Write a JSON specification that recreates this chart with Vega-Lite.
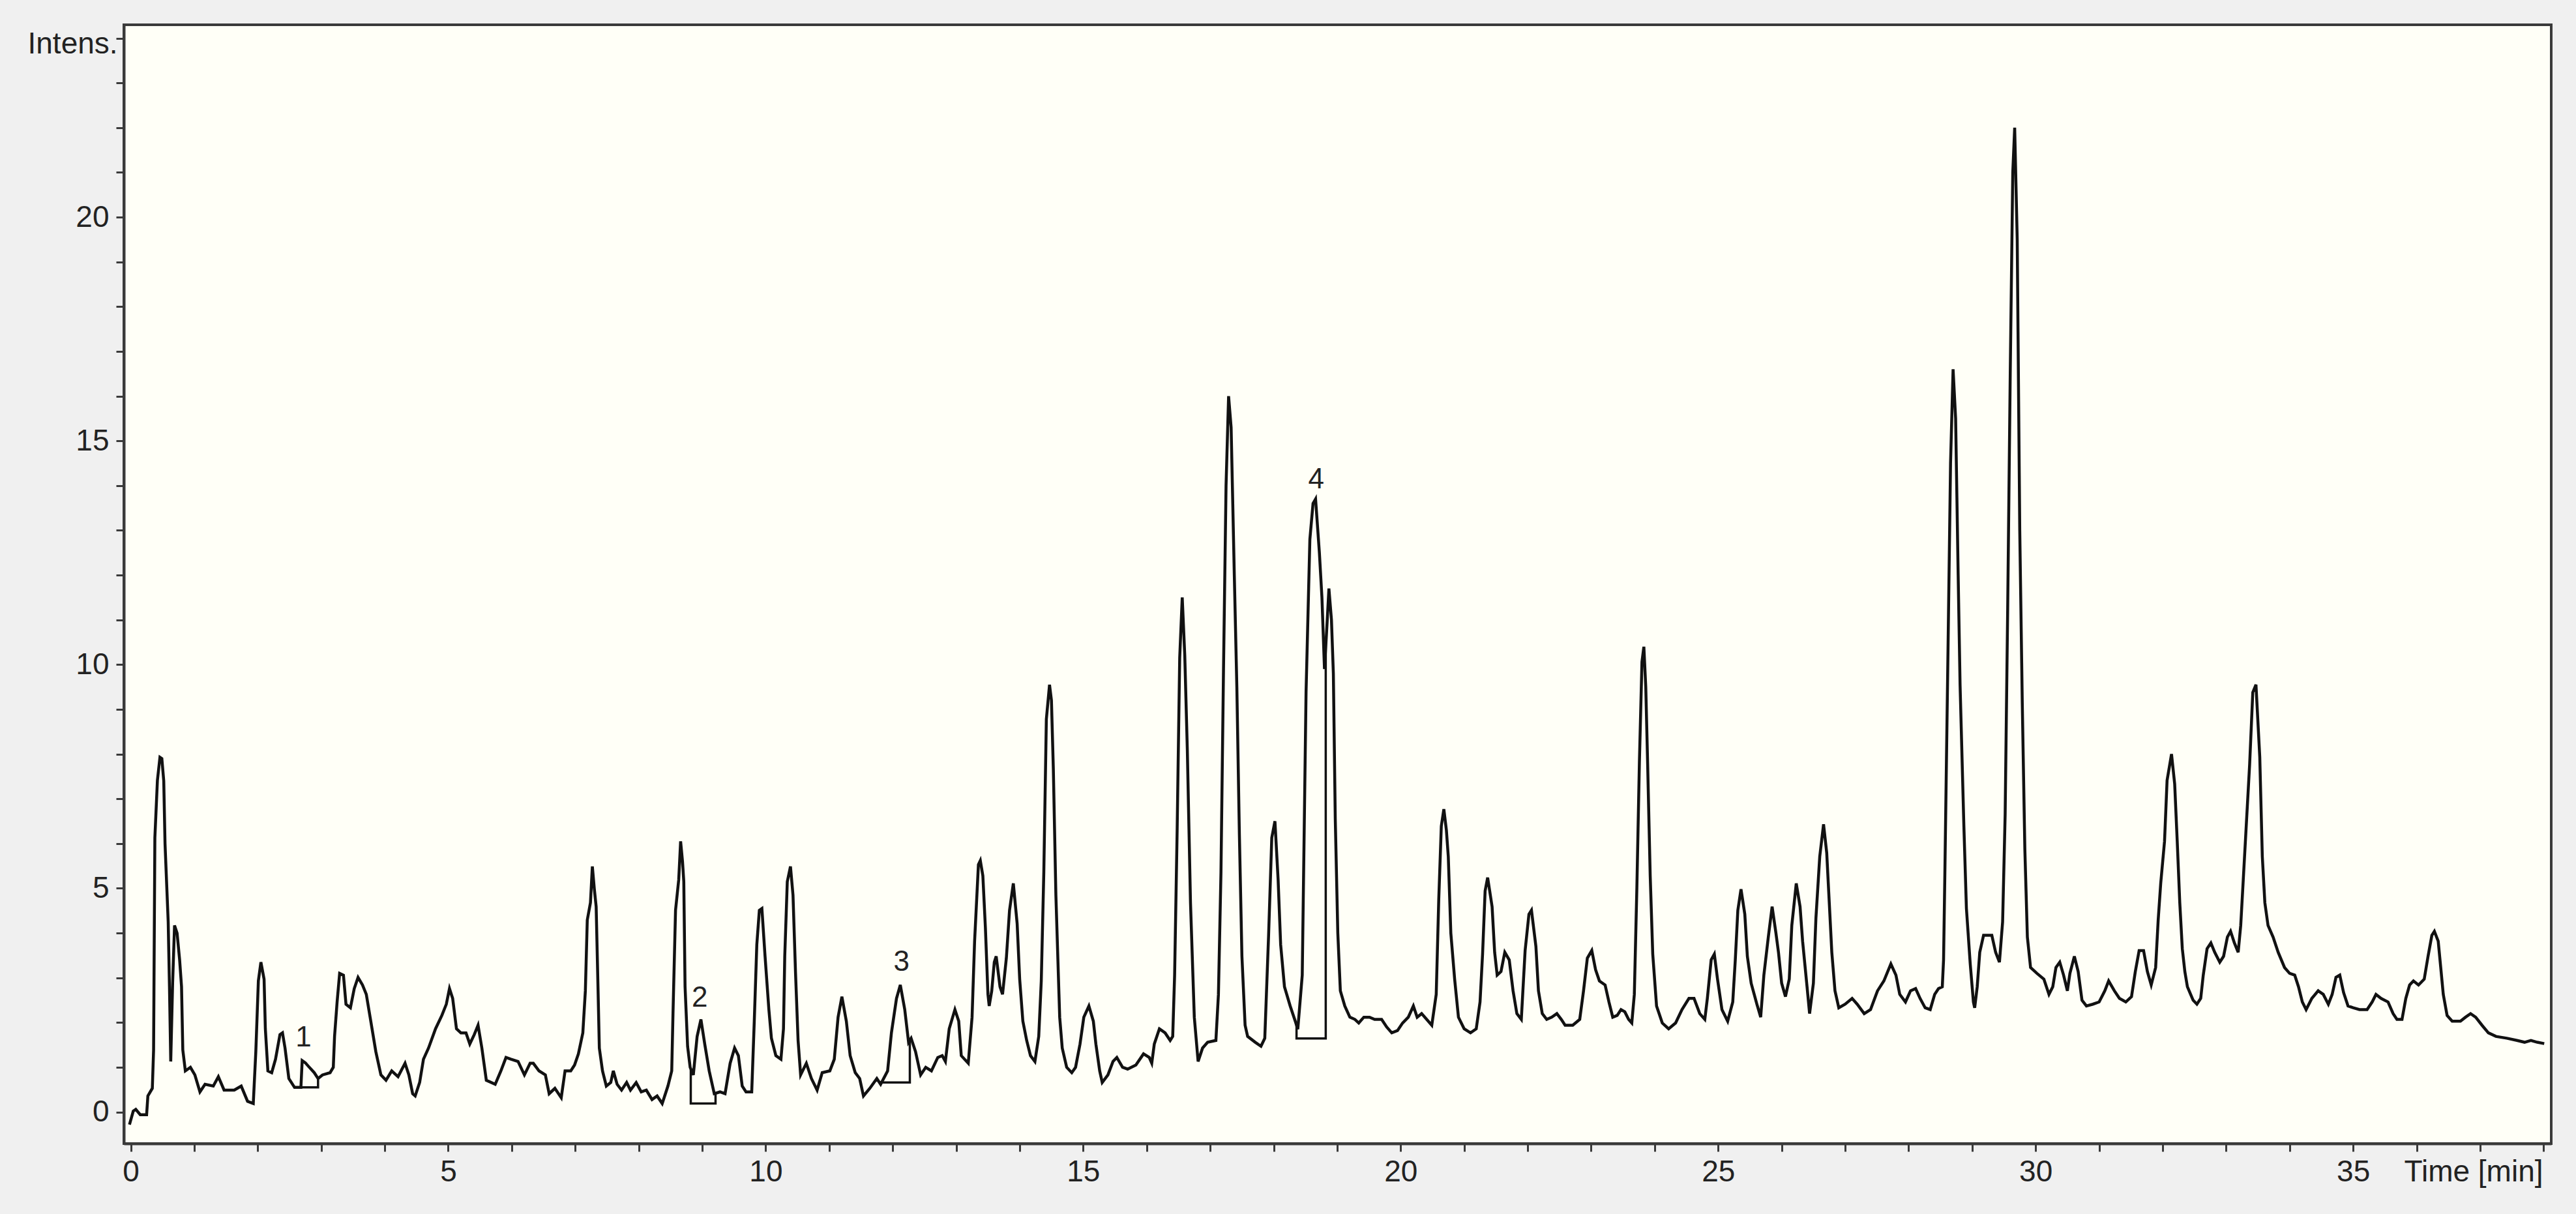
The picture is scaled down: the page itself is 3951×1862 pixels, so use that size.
{
"$schema": "https://vega.github.io/schema/vega-lite/v6.json",
"width": 3723, "height": 1716,
"autosize": {"type": "none"},
"padding": {"left": 190, "top": 38, "right": 38, "bottom": 108},
"background": "#F0F0F0",
"config": {"view": {"fill": "#FFFFF7", "stroke": "#3a3a3a", "strokeWidth": 4}, "font": "Liberation Sans", "axis": {"labelFont": "Liberation Sans", "titleFont": "Liberation Sans"}},
"datasets": {
"trace": [
{"t":-0.02,"v":-0.28},{"t":0.04,"v":0.02},{"t":0.08,"v":0.06},{"t":0.15,"v":-0.06},{"t":0.25,"v":-0.06},{"t":0.27,"v":0.36},{"t":0.34,"v":0.53},{"t":0.36,"v":1.39},{"t":0.38,"v":6.13},{"t":0.42,"v":7.41},{"t":0.46,"v":7.93},{"t":0.49,"v":7.9},{"t":0.52,"v":7.4},{"t":0.54,"v":6.0},{"t":0.59,"v":4.25},{"t":0.61,"v":2.8},{"t":0.63,"v":1.13},{"t":0.66,"v":2.9},{"t":0.69,"v":4.17},{"t":0.73,"v":4.0},{"t":0.77,"v":3.4},{"t":0.80,"v":2.8},{"t":0.82,"v":1.39},{"t":0.86,"v":0.92},{"t":0.94,"v":1.0},{"t":1.01,"v":0.83},{"t":1.09,"v":0.45},{"t":1.17,"v":0.62},{"t":1.30,"v":0.58},{"t":1.38,"v":0.79},{"t":1.47,"v":0.49},{"t":1.63,"v":0.49},{"t":1.74,"v":0.58},{"t":1.84,"v":0.24},{"t":1.93,"v":0.19},{"t":1.97,"v":1.35},{"t":2.01,"v":2.93},{"t":2.05,"v":3.35},{"t":2.10,"v":2.97},{"t":2.12,"v":1.86},{"t":2.16,"v":0.92},{"t":2.22,"v":0.88},{"t":2.28,"v":1.18},{"t":2.35,"v":1.73},{"t":2.39,"v":1.77},{"t":2.43,"v":1.43},{"t":2.49,"v":0.75},{"t":2.58,"v":0.55},{"t":2.68,"v":0.55},{"t":2.70,"v":1.15},{"t":2.75,"v":1.1},{"t":2.80,"v":1.02},{"t":2.89,"v":0.88},{"t":2.95,"v":0.75},{"t":3.02,"v":0.83},{"t":3.14,"v":0.88},{"t":3.19,"v":1.0},{"t":3.21,"v":1.69},{"t":3.25,"v":2.46},{"t":3.29,"v":3.1},{"t":3.35,"v":3.06},{"t":3.39,"v":2.41},{"t":3.46,"v":2.33},{"t":3.52,"v":2.76},{"t":3.58,"v":3.01},{"t":3.65,"v":2.84},{"t":3.71,"v":2.63},{"t":3.77,"v":2.12},{"t":3.86,"v":1.35},{"t":3.94,"v":0.83},{"t":4.02,"v":0.71},{"t":4.11,"v":0.92},{"t":4.21,"v":0.79},{"t":4.32,"v":1.09},{"t":4.38,"v":0.83},{"t":4.44,"v":0.41},{"t":4.48,"v":0.36},{"t":4.55,"v":0.66},{"t":4.61,"v":1.18},{"t":4.69,"v":1.43},{"t":4.80,"v":1.86},{"t":4.90,"v":2.16},{"t":4.97,"v":2.41},{"t":5.02,"v":2.76},{"t":5.07,"v":2.54},{"t":5.13,"v":1.86},{"t":5.20,"v":1.77},{"t":5.28,"v":1.77},{"t":5.34,"v":1.52},{"t":5.41,"v":1.73},{"t":5.47,"v":1.94},{"t":5.53,"v":1.43},{"t":5.60,"v":0.71},{"t":5.74,"v":0.62},{"t":5.83,"v":0.92},{"t":5.91,"v":1.22},{"t":5.99,"v":1.18},{"t":6.10,"v":1.13},{"t":6.20,"v":0.83},{"t":6.29,"v":1.09},
{"t":6.34,"v":1.09},{"t":6.43,"v":0.92},{"t":6.53,"v":0.83},{"t":6.59,"v":0.41},{"t":6.68,"v":0.53},{"t":6.78,"v":0.32},{"t":6.84,"v":0.92},{"t":6.93,"v":0.92},{"t":6.99,"v":1.05},{"t":7.05,"v":1.3},{"t":7.12,"v":1.77},{"t":7.16,"v":2.71},{"t":7.19,"v":4.29},{"t":7.24,"v":4.68},{"t":7.27,"v":5.49},{"t":7.30,"v":5.0},{"t":7.33,"v":4.59},{"t":7.36,"v":2.71},{"t":7.38,"v":1.43},{"t":7.43,"v":0.92},{"t":7.49,"v":0.58},{"t":7.56,"v":0.66},{"t":7.60,"v":0.92},{"t":7.66,"v":0.62},{"t":7.73,"v":0.49},{"t":7.81,"v":0.66},{"t":7.87,"v":0.49},{"t":7.96,"v":0.66},{"t":8.04,"v":0.45},{"t":8.12,"v":0.49},{"t":8.21,"v":0.28},{"t":8.29,"v":0.36},{"t":8.37,"v":0.19},{"t":8.46,"v":0.58},{"t":8.52,"v":0.92},{"t":8.54,"v":2.2},{"t":8.58,"v":4.51},{"t":8.63,"v":5.19},{"t":8.66,"v":6.05},{"t":8.69,"v":5.6},{"t":8.71,"v":5.15},{"t":8.73,"v":2.8},{"t":8.77,"v":1.47},{"t":8.81,"v":1.0},{"t":8.86,"v":0.83},{"t":8.92,"v":1.69},{"t":8.98,"v":2.07},{"t":9.04,"v":1.52},{"t":9.11,"v":0.92},{"t":9.19,"v":0.41},{"t":9.28,"v":0.45},{"t":9.36,"v":0.41},{"t":9.44,"v":1.09},{"t":9.51,"v":1.43},{"t":9.57,"v":1.26},{"t":9.63,"v":0.58},{"t":9.69,"v":0.45},{"t":9.78,"v":0.45},{"t":9.82,"v":2.03},{"t":9.86,"v":3.74},{"t":9.90,"v":4.51},{"t":9.94,"v":4.55},{"t":9.99,"v":3.48},{"t":10.05,"v":2.29},{"t":10.09,"v":1.65},{"t":10.16,"v":1.26},{"t":10.24,"v":1.18},{"t":10.28,"v":1.86},{"t":10.30,"v":3.48},{"t":10.34,"v":5.15},{"t":10.39,"v":5.49},{"t":10.43,"v":4.85},{"t":10.47,"v":3.1},{"t":10.51,"v":1.6},{"t":10.55,"v":0.83},{"t":10.64,"v":1.09},{"t":10.72,"v":0.75},{"t":10.81,"v":0.49},{"t":10.89,"v":0.88},{"t":11.01,"v":0.92},{"t":11.08,"v":1.18},{"t":11.14,"v":2.12},{"t":11.20,"v":2.58},{"t":11.27,"v":2.03},{"t":11.33,"v":1.26},{"t":11.41,"v":0.88},{"t":11.48,"v":0.75},{"t":11.54,"v":0.36},{"t":11.64,"v":0.53},{"t":11.75,"v":0.75},{"t":11.81,"v":0.62},{"t":11.92,"v":0.92},{"t":11.98,"v":1.77},{"t":12.06,"v":2.54},{"t":12.12,"v":2.84},{"t":12.19,"v":2.29},{"t":12.25,"v":1.56},{"t":12.29,"v":1.65},{"t":12.36,"v":1.35},{"t":12.44,"v":0.83},{"t":12.52,"v":1.0},{"t":12.61,"v":0.92},{"t":12.71,"v":1.22},{"t":12.78,"v":1.26},
{"t":12.83,"v":1.13},{"t":12.89,"v":1.86},{"t":12.98,"v":2.29},{"t":13.04,"v":2.03},{"t":13.08,"v":1.26},{"t":13.19,"v":1.09},{"t":13.25,"v":2.12},{"t":13.29,"v":3.82},{"t":13.35,"v":5.53},{"t":13.38,"v":5.62},{"t":13.42,"v":5.28},{"t":13.46,"v":4.12},{"t":13.50,"v":2.63},{"t":13.52,"v":2.37},{"t":13.56,"v":2.71},{"t":13.60,"v":3.35},{"t":13.63,"v":3.48},{"t":13.69,"v":2.8},{"t":13.73,"v":2.63},{"t":13.79,"v":3.44},{"t":13.84,"v":4.51},{"t":13.90,"v":5.11},{"t":13.96,"v":4.21},{"t":14.00,"v":2.97},{"t":14.05,"v":2.03},{"t":14.11,"v":1.6},{"t":14.17,"v":1.26},{"t":14.24,"v":1.13},{"t":14.30,"v":1.69},{"t":14.34,"v":2.93},{"t":14.38,"v":5.36},{"t":14.42,"v":8.78},{"t":14.47,"v":9.55},{"t":14.50,"v":9.2},{"t":14.53,"v":7.67},{"t":14.57,"v":4.85},{"t":14.63,"v":2.12},{"t":14.67,"v":1.43},{"t":14.74,"v":1.0},{"t":14.82,"v":0.88},{"t":14.88,"v":1.0},{"t":14.95,"v":1.52},{"t":15.01,"v":2.12},{"t":15.09,"v":2.37},{"t":15.16,"v":2.03},{"t":15.20,"v":1.52},{"t":15.26,"v":0.92},{"t":15.30,"v":0.66},{"t":15.39,"v":0.83},{"t":15.47,"v":1.13},{"t":15.53,"v":1.22},{"t":15.62,"v":1.0},{"t":15.70,"v":0.96},{"t":15.83,"v":1.05},{"t":15.95,"v":1.3},{"t":16.04,"v":1.22},{"t":16.08,"v":1.09},{"t":16.12,"v":1.52},{"t":16.20,"v":1.86},{"t":16.29,"v":1.77},{"t":16.37,"v":1.6},{"t":16.41,"v":1.69},{"t":16.44,"v":3.06},{"t":16.48,"v":6.3},{"t":16.52,"v":10.15},{"t":16.56,"v":11.5},{"t":16.60,"v":10.2},{"t":16.64,"v":8.1},{"t":16.69,"v":4.68},{"t":16.75,"v":2.12},{"t":16.81,"v":1.13},{"t":16.88,"v":1.43},{"t":16.96,"v":1.56},{"t":17.09,"v":1.6},{"t":17.13,"v":2.63},{"t":17.17,"v":5.36},{"t":17.21,"v":9.9},{"t":17.25,"v":14.0},{"t":17.29,"v":16.0},{"t":17.33,"v":15.3},{"t":17.38,"v":12.0},{"t":17.42,"v":9.5},{"t":17.46,"v":6.2},{"t":17.50,"v":3.48},{"t":17.55,"v":1.94},{"t":17.59,"v":1.69},{"t":17.71,"v":1.56},{"t":17.80,"v":1.47},{"t":17.86,"v":1.65},{"t":17.92,"v":3.95},{"t":17.97,"v":6.13},{"t":18.02,"v":6.5},{"t":18.07,"v":5.19},{"t":18.11,"v":3.74},{"t":18.17,"v":2.8},{"t":18.26,"v":2.37},{"t":18.34,"v":2.03},{"t":18.38,"v":1.85},{"t":18.45,"v":3.06},{"t":18.51,"v":9.38},{"t":18.57,"v":12.8},{"t":18.62,"v":13.6},{"t":18.66,"v":13.7},{"t":18.72,"v":12.5},{"t":18.76,"v":11.5},{"t":18.80,"v":9.9},{"t":18.84,"v":10.9},{"t":18.87,"v":11.7},{"t":18.91,"v":11.0},{"t":18.94,"v":9.8},{"t":18.97,"v":6.56},{"t":19.01,"v":4.0},{"t":19.05,"v":2.71},{"t":19.12,"v":2.37},{"t":19.20,"v":2.12},
{"t":19.28,"v":2.07},{"t":19.34,"v":1.99},{"t":19.42,"v":2.12},{"t":19.51,"v":2.12},{"t":19.59,"v":2.07},{"t":19.70,"v":2.07},{"t":19.78,"v":1.9},{"t":19.86,"v":1.77},{"t":19.95,"v":1.82},{"t":20.03,"v":1.99},{"t":20.12,"v":2.12},{"t":20.20,"v":2.37},{"t":20.26,"v":2.12},{"t":20.33,"v":2.2},{"t":20.41,"v":2.07},{"t":20.49,"v":1.94},{"t":20.56,"v":2.63},{"t":20.60,"v":4.76},{"t":20.64,"v":6.39},{"t":20.68,"v":6.77},{"t":20.72,"v":6.3},{"t":20.75,"v":5.71},{"t":20.79,"v":4.0},{"t":20.85,"v":2.97},{"t":20.91,"v":2.12},{"t":21.00,"v":1.86},{"t":21.10,"v":1.77},{"t":21.19,"v":1.86},{"t":21.25,"v":2.46},{"t":21.29,"v":3.53},{"t":21.33,"v":4.94},{"t":21.37,"v":5.24},{"t":21.44,"v":4.59},{"t":21.48,"v":3.57},{"t":21.52,"v":3.06},{"t":21.58,"v":3.14},{"t":21.64,"v":3.57},{"t":21.71,"v":3.4},{"t":21.77,"v":2.71},{"t":21.83,"v":2.2},{"t":21.90,"v":2.07},{"t":21.96,"v":3.61},{"t":22.02,"v":4.42},{"t":22.06,"v":4.51},{"t":22.13,"v":3.7},{"t":22.17,"v":2.71},{"t":22.23,"v":2.2},{"t":22.30,"v":2.07},{"t":22.38,"v":2.12},{"t":22.46,"v":2.2},{"t":22.53,"v":2.07},{"t":22.59,"v":1.94},{"t":22.71,"v":1.94},{"t":22.82,"v":2.07},{"t":22.88,"v":2.71},{"t":22.94,"v":3.44},{"t":23.01,"v":3.61},{"t":23.07,"v":3.18},{"t":23.13,"v":2.93},{"t":23.22,"v":2.84},{"t":23.28,"v":2.46},{"t":23.34,"v":2.12},{"t":23.41,"v":2.16},{"t":23.47,"v":2.29},{"t":23.53,"v":2.24},{"t":23.59,"v":2.07},{"t":23.64,"v":1.99},{"t":23.68,"v":2.63},{"t":23.72,"v":5.02},{"t":23.76,"v":7.84},{"t":23.80,"v":10.06},{"t":23.83,"v":10.4},{"t":23.86,"v":9.5},{"t":23.89,"v":7.76},{"t":23.93,"v":5.28},{"t":23.97,"v":3.53},{"t":24.03,"v":2.37},{"t":24.12,"v":1.99},{"t":24.22,"v":1.86},{"t":24.33,"v":1.99},{"t":24.43,"v":2.29},{"t":24.54,"v":2.54},{"t":24.62,"v":2.54},{"t":24.71,"v":2.2},{"t":24.79,"v":2.07},{"t":24.83,"v":2.54},{"t":24.89,"v":3.4},{"t":24.94,"v":3.53},{"t":24.99,"v":2.97},{"t":25.06,"v":2.29},{"t":25.15,"v":2.03},{"t":25.23,"v":2.46},{"t":25.27,"v":3.4},{"t":25.31,"v":4.51},{"t":25.36,"v":4.98},{"t":25.42,"v":4.42},{"t":25.46,"v":3.48},{"t":25.52,"v":2.88},{"t":25.61,"v":2.41},{"t":25.67,"v":2.12},
{"t":25.72,"v":3.06},{"t":25.79,"v":3.91},{"t":25.85,"v":4.59},{"t":25.91,"v":4.0},{"t":25.95,"v":3.57},{"t":26.00,"v":2.88},{"t":26.06,"v":2.58},{"t":26.12,"v":2.97},{"t":26.16,"v":4.17},{"t":26.23,"v":5.11},{"t":26.29,"v":4.59},{"t":26.33,"v":3.82},{"t":26.40,"v":2.8},{"t":26.44,"v":2.2},{"t":26.50,"v":2.88},{"t":26.54,"v":4.34},{"t":26.60,"v":5.71},{"t":26.66,"v":6.43},{"t":26.71,"v":5.79},{"t":26.75,"v":4.68},{"t":26.79,"v":3.57},{"t":26.84,"v":2.71},{"t":26.90,"v":2.33},{"t":27.00,"v":2.41},{"t":27.11,"v":2.54},{"t":27.19,"v":2.41},{"t":27.30,"v":2.2},{"t":27.40,"v":2.29},{"t":27.51,"v":2.71},{"t":27.61,"v":2.93},{"t":27.72,"v":3.31},{"t":27.80,"v":3.06},{"t":27.86,"v":2.63},{"t":27.95,"v":2.46},{"t":28.03,"v":2.71},{"t":28.11,"v":2.76},{"t":28.18,"v":2.54},{"t":28.26,"v":2.33},{"t":28.34,"v":2.29},{"t":28.41,"v":2.63},{"t":28.47,"v":2.76},{"t":28.53,"v":2.8},{"t":28.55,"v":3.4},{"t":28.57,"v":5.28},{"t":28.62,"v":10.32},{"t":28.66,"v":14.5},{"t":28.70,"v":16.6},{"t":28.74,"v":15.5},{"t":28.78,"v":12.0},{"t":28.81,"v":9.55},{"t":28.87,"v":6.39},{"t":28.91,"v":4.55},{"t":28.97,"v":3.31},{"t":29.02,"v":2.46},{"t":29.04,"v":2.33},{"t":29.08,"v":2.8},{"t":29.12,"v":3.57},{"t":29.18,"v":3.95},{"t":29.31,"v":3.95},{"t":29.37,"v":3.57},{"t":29.43,"v":3.35},{"t":29.48,"v":4.25},{"t":29.52,"v":6.65},{"t":29.56,"v":11.26},{"t":29.60,"v":16.5},{"t":29.64,"v":21.0},{"t":29.67,"v":22.0},{"t":29.71,"v":19.5},{"t":29.75,"v":13.0},{"t":29.79,"v":9.12},{"t":29.83,"v":5.88},{"t":29.87,"v":3.91},{"t":29.92,"v":3.23},{"t":30.02,"v":3.1},{"t":30.13,"v":2.97},{"t":30.21,"v":2.63},{"t":30.27,"v":2.8},{"t":30.32,"v":3.23},{"t":30.38,"v":3.35},{"t":30.44,"v":3.06},{"t":30.50,"v":2.71},{"t":30.54,"v":3.1},{"t":30.61,"v":3.48},{"t":30.67,"v":3.14},{"t":30.73,"v":2.5},{"t":30.80,"v":2.37},{"t":30.90,"v":2.41},{"t":31.00,"v":2.46},{"t":31.09,"v":2.71},{"t":31.15,"v":2.93},{"t":31.24,"v":2.71},{"t":31.32,"v":2.54},{"t":31.42,"v":2.46},{"t":31.51,"v":2.58},{"t":31.57,"v":3.14},{"t":31.63,"v":3.61},{"t":31.70,"v":3.61},{"t":31.76,"v":3.14},{"t":31.82,"v":2.84},{"t":31.89,"v":3.23},{"t":31.93,"v":4.29},{"t":31.97,"v":5.11},{"t":32.03,"v":6.05},{"t":32.07,"v":7.41},{"t":32.14,"v":8.0},
{"t":32.19,"v":7.33},{"t":32.23,"v":6.05},{"t":32.27,"v":4.68},{"t":32.31,"v":3.65},{"t":32.35,"v":3.14},{"t":32.39,"v":2.8},{"t":32.48,"v":2.5},{"t":32.54,"v":2.41},{"t":32.60,"v":2.54},{"t":32.64,"v":3.06},{"t":32.70,"v":3.65},{"t":32.76,"v":3.78},{"t":32.82,"v":3.57},{"t":32.90,"v":3.35},{"t":32.96,"v":3.48},{"t":33.02,"v":3.91},{"t":33.07,"v":4.04},{"t":33.13,"v":3.78},{"t":33.19,"v":3.57},{"t":33.23,"v":4.17},{"t":33.27,"v":5.19},{"t":33.31,"v":6.22},{"t":33.37,"v":7.76},{"t":33.42,"v":9.38},{"t":33.47,"v":9.55},{"t":33.53,"v":7.93},{"t":33.57,"v":5.71},{"t":33.61,"v":4.68},{"t":33.66,"v":4.17},{"t":33.74,"v":3.91},{"t":33.82,"v":3.57},{"t":33.92,"v":3.23},{"t":34.00,"v":3.1},{"t":34.08,"v":3.06},{"t":34.14,"v":2.8},{"t":34.20,"v":2.46},{"t":34.26,"v":2.29},{"t":34.35,"v":2.54},{"t":34.45,"v":2.71},{"t":34.53,"v":2.63},{"t":34.61,"v":2.41},{"t":34.67,"v":2.63},{"t":34.73,"v":3.01},{"t":34.79,"v":3.06},{"t":34.85,"v":2.67},{"t":34.92,"v":2.37},{"t":35.00,"v":2.33},{"t":35.10,"v":2.29},{"t":35.22,"v":2.29},{"t":35.30,"v":2.46},{"t":35.36,"v":2.63},{"t":35.44,"v":2.54},{"t":35.55,"v":2.46},{"t":35.63,"v":2.2},{"t":35.69,"v":2.07},{"t":35.77,"v":2.07},{"t":35.83,"v":2.54},{"t":35.89,"v":2.84},{"t":35.95,"v":2.93},{"t":36.03,"v":2.84},{"t":36.12,"v":2.97},{"t":36.18,"v":3.48},{"t":36.24,"v":3.95},{"t":36.28,"v":4.04},{"t":36.34,"v":3.82},{"t":36.38,"v":3.23},{"t":36.42,"v":2.63},{"t":36.48,"v":2.16},{"t":36.56,"v":2.03},{"t":36.69,"v":2.03},{"t":36.77,"v":2.12},{"t":36.85,"v":2.2},{"t":36.93,"v":2.12},{"t":37.03,"v":1.94},{"t":37.13,"v":1.77},{"t":37.25,"v":1.69},{"t":37.42,"v":1.65},{"t":37.58,"v":1.6},{"t":37.70,"v":1.56},{"t":37.80,"v":1.6},{"t":37.90,"v":1.56},{"t":38.01,"v":1.53}
],
"integ": [
{"peak":"1","o":1,"t":2.68,"v":0.55},{"peak":"1","o":2,"t":2.95,"v":0.55},{"peak":"1","o":3,"t":2.95,"v":0.75},
{"peak":"2","o":1,"t":8.82,"v":0.95},{"peak":"2","o":2,"t":8.82,"v":0.19},{"peak":"2","o":3,"t":9.21,"v":0.19},{"peak":"2","o":4,"t":9.21,"v":0.41},
{"peak":"3","o":1,"t":11.80,"v":0.66},{"peak":"3","o":2,"t":12.27,"v":0.66},{"peak":"3","o":3,"t":12.27,"v":1.6},
{"peak":"4","o":1,"t":18.36,"v":1.95},{"peak":"4","o":2,"t":18.36,"v":1.645},{"peak":"4","o":3,"t":18.82,"v":1.645},{"peak":"4","o":4,"t":18.82,"v":10.5}
],
"labels": [
{"t":2.72,"v":1.65,"label":"1"},{"t":8.96,"v":2.54,"label":"2"},{"t":12.14,"v":3.35,"label":"3"},{"t":18.67,"v":14.13,"label":"4"}
]
},
"layer": [
{
"data": {"name": "trace"},
"mark": {"type": "line", "color": "#111111", "strokeWidth": 4.5, "clip": true},
"encoding": {
"x": {"field": "t", "type": "quantitative",
"scale": {"domain": [-0.108, 38.12], "nice": false, "zero": false},
"axis": {"values": [0,1,2,3,4,5,6,7,8,9,10,11,12,13,14,15,16,17,18,19,20,21,22,23,24,25,26,27,28,29,30,31,32,33,34,35,36,37,38],
"format": "d",
"labelExpr": "datum.value % 5 === 0 && datum.value <= 35 ? datum.label : ''",
"labelOverlap": false, "labelFlush": false, "grid": false,
"tickSize": 12, "tickWidth": 3, "tickColor": "#3a3a3a",
"domainColor": "#3a3a3a", "domainWidth": 4,
"labelFontSize": 46, "labelColor": "#222222", "labelPadding": 9,
"title": "Time [min]", "titleFontSize": 46, "titleFontWeight": "normal", "titleColor": "#222222",
"titleAlign": "right", "titleAnchor": null, "titleX": 3710, "titleY": 21, "titleBaseline": "top"}},
"y": {"field": "v", "type": "quantitative",
"scale": {"domain": [-0.705, 24.3], "nice": false, "zero": false},
"axis": {"values": [0,1,2,3,4,5,6,7,8,9,10,11,12,13,14,15,16,17,18,19,20,21,22,23,24],
"format": "d",
"labelExpr": "datum.value % 5 === 0 ? datum.label : ''",
"labelOverlap": false, "labelFlush": false, "grid": false,
"tickSize": 12, "tickWidth": 3, "tickColor": "#3a3a3a",
"domainColor": "#3a3a3a", "domainWidth": 4,
"labelFontSize": 46, "labelColor": "#222222", "labelPadding": 11,
"title": "Intens.", "titleFontSize": 46, "titleFontWeight": "normal", "titleColor": "#222222",
"titleAngle": 0, "titleAlign": "left", "titleBaseline": "top", "titleX": -148, "titleY": 7}}
}
},
{
"data": {"name": "integ"},
"mark": {"type": "line", "color": "#111111", "strokeWidth": 3.5, "clip": true},
"encoding": {
"x": {"field": "t", "type": "quantitative"},
"y": {"field": "v", "type": "quantitative"},
"detail": {"field": "peak", "type": "nominal"},
"order": {"field": "o", "type": "quantitative"}
}
},
{
"data": {"name": "labels"},
"mark": {"type": "text", "fontSize": 44, "color": "#222222", "font": "Liberation Sans", "align": "center", "baseline": "middle"},
"encoding": {
"x": {"field": "t", "type": "quantitative"},
"y": {"field": "v", "type": "quantitative"},
"text": {"field": "label", "type": "nominal"}
}
}
]
}
